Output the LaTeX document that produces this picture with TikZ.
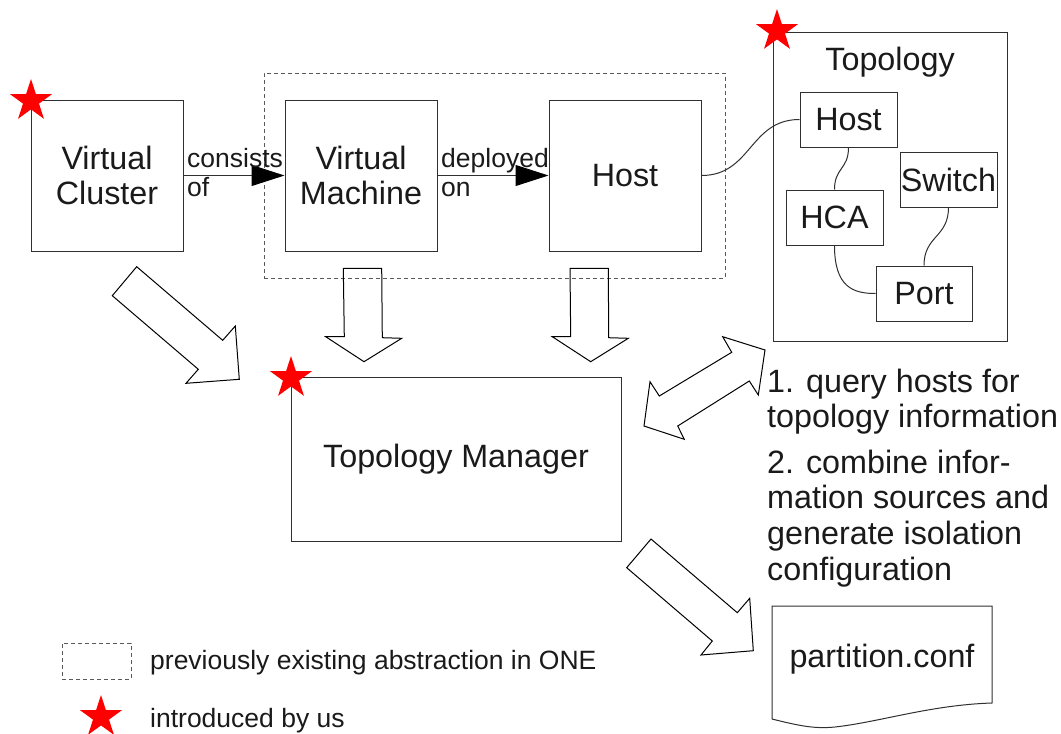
\documentclass[tikz,border=0pt]{standalone}
\usepackage{fontspec}
\setmainfont{Liberation Sans}
\usetikzlibrary{shapes.geometric,arrows.meta}

\definecolor{ink}{HTML}{1A1A1A}
\definecolor{edge}{HTML}{303030}

\tikzset{
  big/.style={font=\fontsize{32.3}{35}\selectfont, text=ink},
  small/.style={font=\fontsize{26.5}{29}\selectfont, text=ink},
  box/.style={draw=edge, line width=1pt, rectangle, inner sep=0pt},
  dashbox/.style={draw=edge!80, line width=1pt, dash pattern=on 4pt off 3pt, rectangle, inner sep=0pt},
  conn/.style={draw=edge, line width=1pt},
  headarrow/.style={conn, -{Triangle[length=33pt,width=21pt,fill=black,color=black]}},
  blockarrow/.style={draw=black, line width=1pt, line join=miter},
  redstar/.style={star, star points=5, star point ratio=2.618, minimum size=44pt,
                  inner sep=0pt, fill=red, draw=none},
  plain/.style={inner sep=0pt}
}

\begin{document}
\begin{tikzpicture}[x=1pt,y=-1pt]
\useasboundingbox (0,0) rectangle (1061,734);

% abstraction chain
\node[box, minimum width=152pt, minimum height=151pt, big, align=center] (vc) at (107,175.5) {Virtual\\Cluster};
\node[box, minimum width=152pt, minimum height=151pt, big, align=center] (vm) at (361,175.5) {Virtual\\Machine};
\node[box, minimum width=152pt, minimum height=151pt, big] (host) at (625,175.5) {Host};
\node[dashbox, minimum width=461pt, minimum height=205pt] (one) at (494.5,175.5) {};

\draw[headarrow] (vc.east) -- (vm.west);
\draw[headarrow] (vm.east) -- (host.west);
\node[small, plain, anchor=base west] (cons1) at (187,167) {consists};
\node[small, plain, anchor=base west] (cons2) at (187,196) {of};
\node[small, plain, anchor=base west] (dep1) at (441,167) {deployed};
\node[small, plain, anchor=base west] (dep2) at (441,196) {on};

% topology model
\node[box, minimum width=234pt, minimum height=309pt] (topo) at (890,186.5) {};
\node[big, plain, anchor=base] (topotitle) at (890,70) {Topology};
\node[box, minimum width=97pt, minimum height=55pt, big] (th) at (848.5,119.5) {Host};
\node[box, minimum width=97pt, minimum height=55pt, big] (sw) at (948.5,179.5) {Switch};
\node[box, minimum width=97pt, minimum height=55pt, big] (hca) at (834.5,217.5) {HCA};
\node[box, minimum width=96pt, minimum height=55pt, big] (port) at (924,293.5) {Port};

\draw[conn] (host.east) .. controls +(50,0) and +(-50,0) .. (th.west);
\draw[conn] (th.south) .. controls +(0,22) and +(0,-22) .. (hca.north);
\draw[conn] (hca.south) .. controls +(0,42) and +(-22,0) .. (port.west);
\draw[conn] (sw.south) .. controls +(0,30) and +(0,-30) .. (port.north);

% topology manager
\node[box, minimum width=330pt, minimum height=164pt, big] (tm) at (456,459) {Topology Manager};

% block arrows into and out of the manager
\draw[blockarrow] (136.7,266.7) -- (222.7,340.3) -- (235.3,326) -- (239.3,379.3)
  -- (186,383.3) -- (198.3,369.3) -- (112.3,295.7) -- cycle;
\draw[blockarrow] (343.3,268.3) -- (381.7,268.3) -- (382.3,337.7) -- (401.7,338.3)
  -- (364,361.7) -- (325.7,336.7) -- (344.3,336.7) -- cycle;
\draw[blockarrow] (570,268.3) -- (608.3,268.3) -- (608.7,337.7) -- (628.3,338.3)
  -- (590.7,361.7) -- (552.3,336.7) -- (570.7,336.7) -- cycle;
\draw[blockarrow] (765,350) -- (722.7,336.7) -- (731.7,352.3) -- (659.3,396)
  -- (650,381.7) -- (644,426) -- (684.3,439.3) -- (677.7,426) -- (749.3,381)
  -- (758.3,395) -- cycle;
\draw[blockarrow] (651,539) -- (737.3,612.7) -- (749.7,598.3) -- (753.3,650.7)
  -- (701,655) -- (712.3,641) -- (626.7,567.7) -- cycle;

% steps
\node[big, plain, anchor=base west] (s1a) at (767,392) {1. query hosts for};
\node[big, plain, anchor=base west] (s1b) at (767,427) {topology information};
\node[big, plain, anchor=base west] (s2a) at (767,473) {2. combine infor-};
\node[big, plain, anchor=base west] (s2b) at (767,508) {mation sources and};
\node[big, plain, anchor=base west] (s2c) at (767,544) {generate isolation};
\node[big, plain, anchor=base west] (s2d) at (767,580) {configuration};

% generated file
\draw[box] (772,606) -- (992,606) -- (992,703)
  .. controls (930,705) and (880,722) .. (835,727)
  .. controls (815,729) and (800,726) .. (772,719) -- cycle;
\node[big, plain, anchor=base] (pconf) at (882,667) {partition.conf};

% legend
\node[dashbox, minimum width=69pt, minimum height=36pt] (legbox) at (96.5,661) {};
\node[small, plain, anchor=base west] (leg1) at (150,669) {previously existing abstraction in ONE};
\node[redstar] (legstar) at (101,717) {};
\node[small, plain, anchor=base west] (leg2) at (150,727) {introduced by us};

% new components
\node[redstar] (star1) at (31,101) {};
\node[redstar] (star2) at (777,31) {};
\node[redstar] (star3) at (291,378) {};
\end{tikzpicture}
\end{document}
